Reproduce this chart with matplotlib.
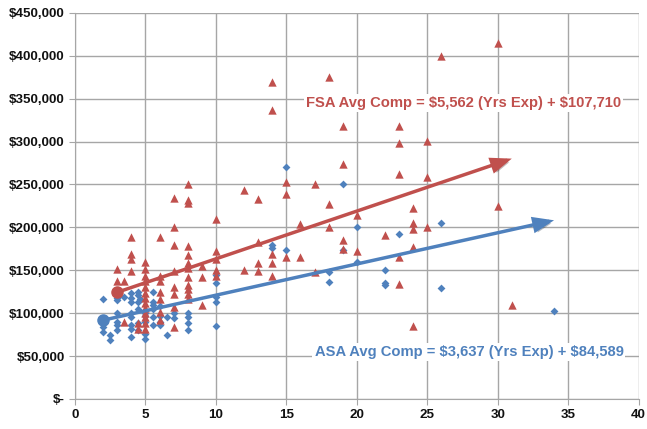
import matplotlib.pyplot as plt
import matplotlib.patheffects as pe
from matplotlib.ticker import FuncFormatter

# ASA (blue diamonds): years of experience, compensation
asa_x = [2, 2, 2, 2, 2, 2.5, 2.5,
         3, 3, 3, 3, 3, 3, 3, 3.5,
         4, 4, 4, 4, 4, 4, 4, 4,
         4.5, 4.5, 4.5, 4.5, 4.5, 4.5, 4.6,
         5, 5, 5, 5, 5,
         5.5, 5.5, 5.5, 5.5, 5.5, 5.5,
         6, 6, 6, 6, 6.5, 6.5, 7, 7,
         8, 8, 8, 8, 10, 10, 10, 10, 10,
         14, 14, 15, 15, 18, 18, 19, 19, 20, 20,
         22, 22, 22, 23, 26, 26, 34]
asa_y = [117000, 91000, 88000, 84000, 78000, 74000, 69000,
         123000, 118000, 115000, 100000, 90000, 86000, 80000, 119000,
         123000, 118000, 113000, 100000, 96000, 86000, 81000, 72000,
         125000, 121000, 113000, 105000, 88000, 80000, 117000,
         100000, 97000, 90000, 76000, 70000,
         125000, 113000, 109000, 105000, 95000, 86000,
         108000, 97000, 90000, 86000, 96000, 74000, 100000, 94000,
         100000, 96000, 88000, 80000, 144000, 135000, 119000, 113000, 85000,
         180000, 176000, 270000, 174000, 148000, 136000, 250000, 174000, 200000, 160000,
         150000, 135000, 133000, 192000, 205000, 129000, 102000]

# FSA (red triangles)
fsa_x = [3, 3, 3.5, 3.5,
         4, 4, 4, 4, 4.5, 4.5,
         5, 5, 5, 5, 5, 5, 5, 5, 5, 5, 5, 5, 5,
         6, 6, 6, 6, 6, 6, 6,
         7, 7, 7, 7, 7, 7, 7, 7,
         8, 8, 8, 8, 8, 8, 8, 8, 8, 8, 8, 8,
         9, 9, 9, 10, 10, 10, 10, 10,
         12, 12, 13, 13, 13, 13, 14, 14, 14, 14, 14,
         15, 15, 15, 16, 16, 17, 17, 18, 18, 18,
         19, 19, 19, 19, 20, 20, 22,
         23, 23, 23, 23, 23, 24, 24, 24, 24, 24,
         25, 25, 25, 26, 30, 30, 31]
fsa_y = [152000, 138000, 137000, 90000,
         189000, 169000, 163000, 149000, 88000, 82000,
         160000, 151000, 143000, 137000, 130000, 124000, 118000, 112000, 106000, 100000, 95000, 88000, 82000,
         189000, 143000, 137000, 125000, 116000, 101000, 92000,
         234000, 200000, 179000, 149000, 131000, 122000, 107000, 84000,
         250000, 232000, 228000, 178000, 168000, 158000, 153000, 142000, 133000, 128000, 122000, 117000,
         155000, 142000, 109000, 210000, 172000, 163000, 150000, 143000,
         244000, 150000, 233000, 183000, 159000, 149000, 370000, 337000, 169000, 159000, 143000,
         253000, 239000, 165000, 204000, 165000, 250000, 148000, 375000, 227000, 201000,
         318000, 274000, 185000, 175000, 214000, 173000, 191000,
         318000, 298000, 262000, 165000, 134000, 222000, 205000, 198000, 177000, 85000,
         301000, 259000, 200000, 400000, 415000, 225000, 110000]

# trend equations shown on the chart
fsa_slope, fsa_icpt = 5562, 107710
asa_slope, asa_icpt = 3637, 84589
fsa_span = (3, 31)
asa_span = (2, 34)

blue = '#4F81BD'
red = '#C0504D'

fig = plt.figure(figsize=(6.47, 4.29), dpi=100)
ax = fig.add_axes([0.116, 0.07, 0.871, 0.9])

ax.scatter(asa_x, asa_y, marker='D', s=16, color=blue, zorder=3, linewidths=0)
ax.scatter(fsa_x, fsa_y, marker='^', s=36, color=red, zorder=3, linewidths=0)

for (x0, x1), m, b, c in [(fsa_span, fsa_slope, fsa_icpt, red),
                          (asa_span, asa_slope, asa_icpt, blue)]:
    y0, y1 = m * x0 + b, m * x1 + b
    ax.annotate('', xy=(x1, y1), xytext=(x0, y0),
                arrowprops=dict(arrowstyle='-|>,head_length=1.1,head_width=0.42',
                                color=c, lw=2.5, shrinkA=0, shrinkB=0,
                                joinstyle='miter', capstyle='butt',
                                path_effects=[pe.withSimplePatchShadow(offset=(1.5, -1.5), alpha=0.3)]),
                zorder=4)
    ax.plot([x0], [y0], 'o', ms=8, color=c, zorder=5)

txt_kw = dict(transform=ax.transAxes, ha='center', va='center', fontsize=10.6,
              fontweight='bold', family='Liberation Sans',
              bbox=dict(facecolor='white', edgecolor='none', pad=1.5), zorder=6)
ax.text(0.689, 0.767, r'FSA Avg Comp = \$5,562 (Yrs Exp) + \$107,710', color=red, **txt_kw)
ax.text(0.699, 0.122, r'ASA Avg Comp = \$3,637 (Yrs Exp) + \$84,589', color=blue, **txt_kw)

ax.set_xlim(0, 40)
ax.set_ylim(0, 450000)
ax.set_xticks(range(0, 41, 5))
ax.set_yticks(range(0, 450001, 50000))
ax.yaxis.set_major_formatter(FuncFormatter(lambda v, p: r'\$-' if v == 0 else r'\${:,.0f}'.format(v)))

ax.grid(True, color='#A6A6A6', lw=1)
ax.set_axisbelow(True)
for s in ['top', 'right']:
    ax.spines[s].set_visible(False)
for s in ['left', 'bottom']:
    ax.spines[s].set_color('#A6A6A6')
ax.tick_params(colors='#A6A6A6', length=4, labelcolor='#111111')
for lbl in ax.get_xticklabels() + ax.get_yticklabels():
    lbl.set_fontweight('bold')
    lbl.set_fontsize(9.6)
    lbl.set_family('Liberation Sans')

fig.savefig('out.png', dpi=100)
